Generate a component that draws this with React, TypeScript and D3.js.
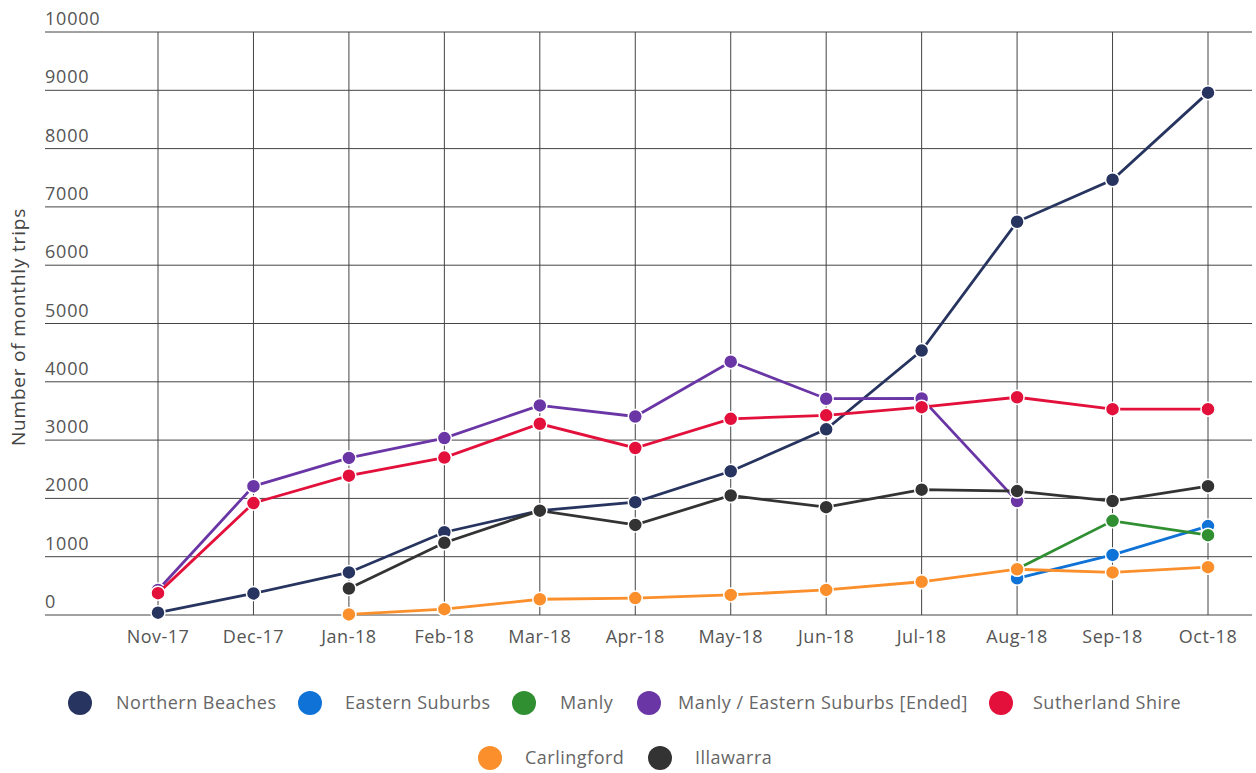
import React from "react";
import * as d3 from "d3";

const months = ["Nov-17","Dec-17","Jan-18","Feb-18","Mar-18","Apr-18","May-18","Jun-18","Jul-18","Aug-18","Sep-18","Oct-18"];
const yTicks = [0,1000,2000,3000,4000,5000,6000,7000,8000,9000,10000];

const northernBeaches = [40, 370, 730, 1420, 1790, 1935, 2465, 3185, 4535, 6745, 7465, 8960];
const easternSuburbs = [null, null, null, null, null, null, null, null, null, 630, 1030, 1525];
const manly = [null, null, null, null, null, null, null, null, null, 790, 1615, 1370];
const manlyEastern = [430, 2210, 2695, 3035, 3595, 3405, 4345, 3710, 3715, 1955, null, null];
const sutherland = [375, 1920, 2390, 2700, 3280, 2865, 3365, 3425, 3565, 3735, 3530, 3530];
const carlingford = [null, null, 10, 100, 270, 290, 345, 430, 570, 785, 730, 820];
const illawarra = [null, null, 455, 1240, 1790, 1545, 2050, 1850, 2150, 2125, 1955, 2210];

const seriesNames = ["Northern Beaches","Eastern Suburbs","Manly","Manly / Eastern Suburbs [Ended]","Sutherland Shire","Carlingford","Illawarra"];
const seriesColors = ["#27345f","#0f72d6","#2f8f31","#6a36a6","#e2103b","#fa8f2c","#333333"];
const seriesValues = [northernBeaches, easternSuburbs, manly, manlyEastern, sutherland, carlingford, illawarra];

const FONT = "'Open Sans', sans-serif";

export default function App() {
  const x = d3.scalePoint<string>().domain(months).range([158, 1208]);
  const y = d3.scaleLinear().domain([0, 10000]).range([615, 32]);
  const line = d3.line<{m: string; v: number | null}>()
    .defined(d => d.v !== null)
    .x(d => x(d.m) as number)
    .y(d => y(d.v as number));

  const legendItems = [
    { i: 0, cx: 80, tx: 116, cy: 703 },
    { i: 1, cx: 310, tx: 345, cy: 703 },
    { i: 2, cx: 524, tx: 560, cy: 703 },
    { i: 3, cx: 649, tx: 678, cy: 703 },
    { i: 4, cx: 1001, tx: 1033, cy: 703 },
    { i: 5, cx: 490, tx: 525, cy: 758 },
    { i: 6, cx: 660, tx: 695, cy: 758 },
  ];

  return (
    <svg width={1256} height={773} style={{ position: "absolute", left: 0, top: 0, background: "#fff" }} fontFamily={FONT}>
      <rect x={0} y={0} width={1256} height={773} fill="#fff" />
      {yTicks.map(t => (
        <g key={"y" + t}>
          <line x1={45} x2={1252} y1={y(t)} y2={y(t)} stroke="#444" strokeWidth={1} />
          <text x={45} y={y(t) - 7} fontSize={18} letterSpacing={0.8} fill="#555">{t}</text>
        </g>
      ))}
      {months.map(m => (
        <g key={"x" + m}>
          <line x1={x(m)} x2={x(m)} y1={y(10000)} y2={y(0)} stroke="#444" strokeWidth={1} />
          <text x={x(m)} y={643} fontSize={18} letterSpacing={0.5} fill="#555" textAnchor="middle">{m}</text>
        </g>
      ))}
      <text transform="translate(25,327) rotate(-90)" fontSize={19} letterSpacing={0.8} fill="#444" textAnchor="middle">Number of monthly trips</text>
      {seriesValues.map((vals, si) => {
        const data = months.map((m, i) => ({ m, v: vals[i] }));
        return (
          <g key={"s" + si}>
            <path d={line(data) || ""} fill="none" stroke={seriesColors[si]} strokeWidth={2.8} />
            {data.filter(d => d.v !== null).map(d => (
              <circle key={d.m} cx={x(d.m)} cy={y(d.v as number)} r={7} fill={seriesColors[si]} stroke="#fff" strokeWidth={1.5} />
            ))}
          </g>
        );
      })}
      {legendItems.map(l => (
        <g key={"l" + l.i}>
          <circle cx={l.cx} cy={l.cy} r={12} fill={seriesColors[l.i]} />
          <text x={l.tx} y={l.cy + 6} fontSize={18} letterSpacing={0.5} fill="#666">{seriesNames[l.i]}</text>
        </g>
      ))}
    </svg>
  );
}
